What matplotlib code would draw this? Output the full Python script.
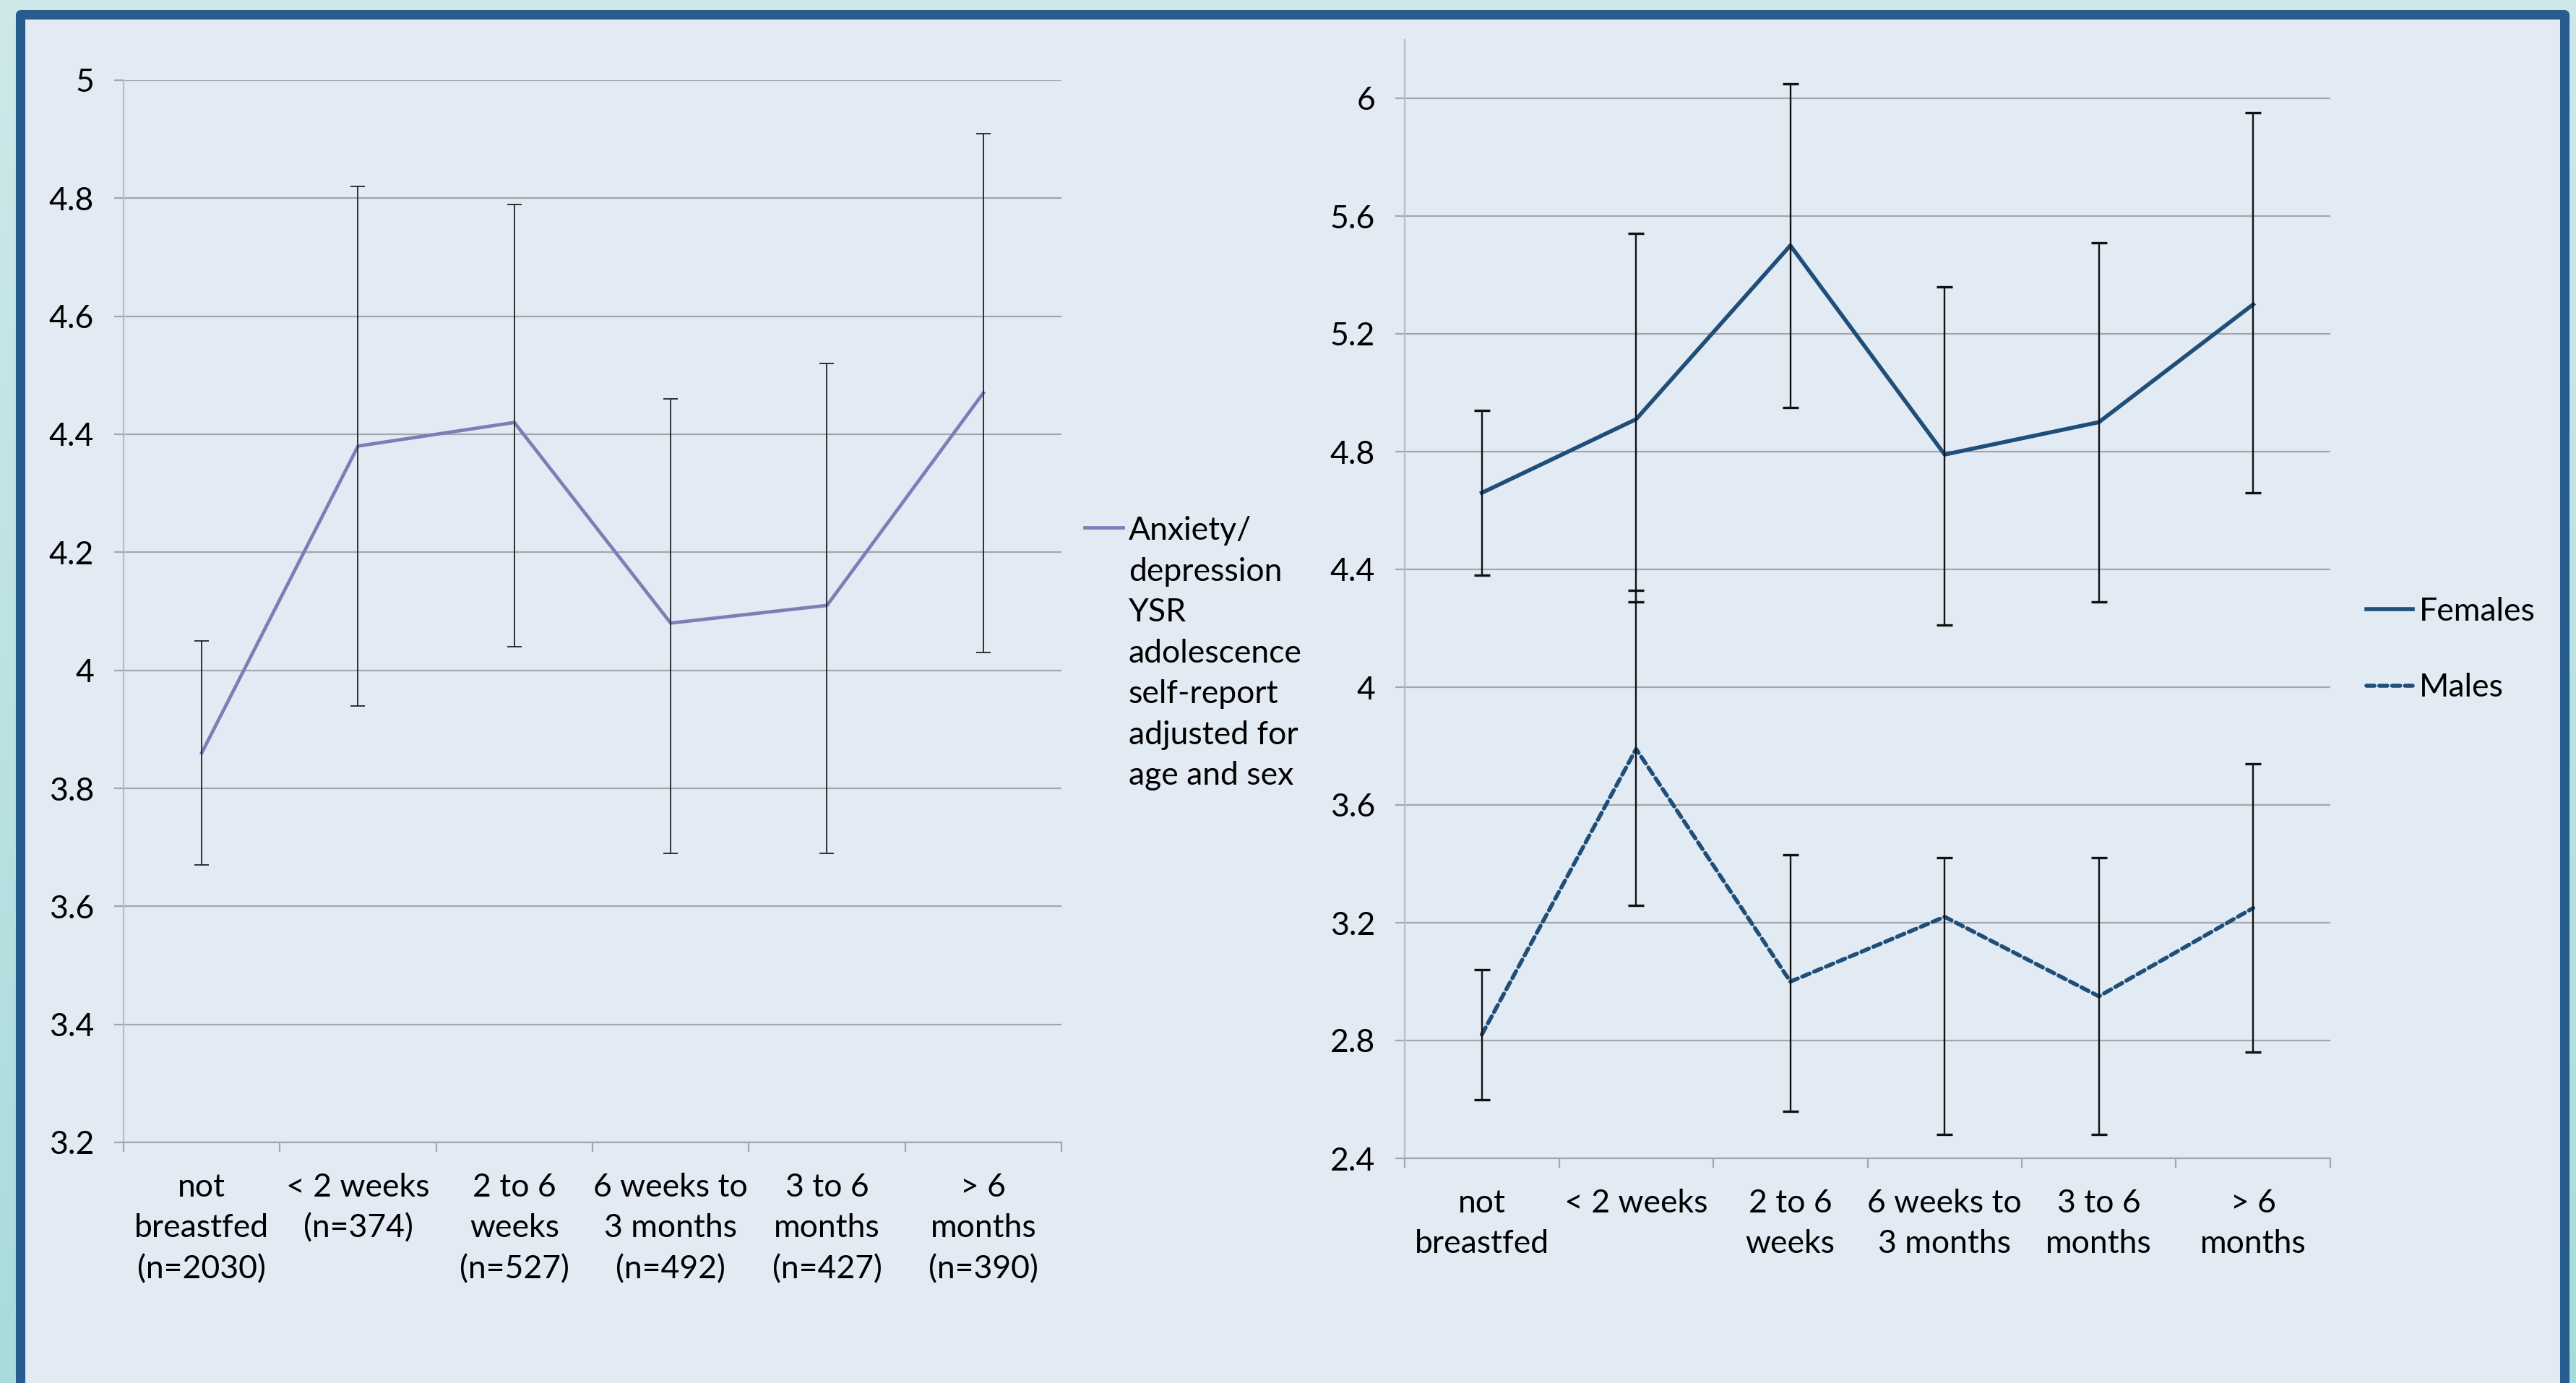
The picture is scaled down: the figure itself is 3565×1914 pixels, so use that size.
import numpy as np
import matplotlib
matplotlib.use('Agg')
import matplotlib.pyplot as plt
from matplotlib.patches import Rectangle

plt.rcParams['font.family'] = ['Lato', 'DejaVu Sans']

# data
cats_left = ['not\nbreastfed\n(n=2030)', '< 2 weeks\n(n=374)', '2 to 6\nweeks\n(n=527)',
             '6 weeks to\n3 months\n(n=492)', '3 to 6\nmonths\n(n=427)', '> 6\nmonths\n(n=390)']
cats_right = ['not\nbreastfed', '< 2 weeks', '2 to 6\nweeks', '6 weeks to\n3 months',
              '3 to 6\nmonths', '> 6\nmonths']

anx = [3.86, 4.38, 4.42, 4.08, 4.11, 4.47]
anx_lo = [3.67, 3.94, 4.04, 3.69, 3.69, 4.03]
anx_hi = [4.05, 4.82, 4.79, 4.46, 4.52, 4.91]

fem = [4.66, 4.91, 5.50, 4.79, 4.90, 5.30]
fem_lo = [4.38, 4.29, 4.95, 4.21, 4.29, 4.66]
fem_hi = [4.94, 5.54, 6.05, 5.36, 5.51, 5.95]

male = [2.82, 3.79, 3.00, 3.22, 2.95, 3.25]
male_lo = [2.60, 3.26, 2.56, 2.48, 2.48, 2.76]
male_hi = [3.04, 4.33, 3.43, 3.42, 3.42, 3.74]

left_ticks = [3.2, 3.4, 3.6, 3.8, 4.0, 4.2, 4.4, 4.6, 4.8, 5.0]
right_ticks = [2.4, 2.8, 3.2, 3.6, 4.0, 4.4, 4.8, 5.2, 5.6, 6.0]

W, H = 3566, 1914
fig = plt.figure(figsize=(W / 100, H / 100), dpi=100)

# background gradient + panel frame
bg = fig.add_axes([0, 0, 1, 1], zorder=-10)
grad = np.linspace(0, 1, 256).reshape(-1, 1)
c_top = np.array([0.81, 0.91, 0.915])
c_bot = np.array([0.66, 0.86, 0.86])
img = c_top[None, None, :] * (1 - grad[:, :, None]) + c_bot[None, None, :] * grad[:, :, None]
bg.imshow(img, aspect='auto', extent=[0, 1, 0, 1], origin='upper')
bg.set_xlim(0, 1)
bg.set_ylim(0, 1)
bg.axis('off')
bg.add_patch(Rectangle((28.5 / W, -0.05), (3549 - 28.5) / W, 1 - 19.5 / H + 0.05,
                       facecolor='#e2eaf4', edgecolor='#275c8f', linewidth=9.4,
                       joinstyle='round', clip_on=False))

grid_c = '#a3a6aa'
fs = 32
lsp = 1.47


def style(ax, yt, ylim, labels):
    ax.set_facecolor('none')
    ax.set_xlim(-0.5, 5.5)
    ax.set_ylim(*ylim)
    ax.set_yticks(yt)
    ax.set_yticklabels(['%g' % v for v in yt])
    ax.set_xticks(range(6))
    ax.set_xticklabels(labels, linespacing=lsp)
    ax.set_xticks(np.arange(-0.5, 6, 1), minor=True)
    ax.tick_params(axis='x', which='major', length=0, pad=30, labelsize=fs)
    ax.tick_params(axis='x', which='minor', length=9, width=1.6, color=grid_c)
    ax.tick_params(axis='y', length=9.4, width=1.6, color=grid_c, pad=20, labelsize=fs)
    ax.yaxis.grid(True, color=grid_c, linewidth=1.6)
    ax.set_axisbelow(True)
    for s in ['top', 'right']:
        ax.spines[s].set_visible(False)
    ax.spines['left'].set_color('#b9bcc0')
    ax.spines['left'].set_linewidth(1.6)
    ax.spines['bottom'].set_color(grid_c)
    ax.spines['bottom'].set_linewidth(1.6)


x = np.arange(6)

# left chart
ax1 = fig.add_axes([171 / W, 1 - 1581 / H, (1469 - 171) / W, (1581 - 111) / H])
style(ax1, left_ticks, (3.2, 5.0), cats_left)
ax1.plot(x, anx, color='#7c7eb6', linewidth=3.4, zorder=3,
         label='Anxiety/\ndepression\nYSR\nadolescence\nself-report\nadjusted for\nage and sex')
ax1.errorbar(x, anx, yerr=[np.subtract(anx, anx_lo), np.subtract(anx_hi, anx)], fmt='none',
             ecolor='#222222', elinewidth=1.3, capsize=7, capthick=1.3, zorder=4)
leg1 = ax1.legend(loc='upper left', bbox_to_anchor=(1501 / W, 1 - 714 / H),
                  bbox_transform=fig.transFigure, frameon=False, fontsize=fs,
                  handlelength=1.2, handletextpad=0.17, borderpad=0, borderaxespad=0)
for t in leg1.get_texts():
    t.set_linespacing(lsp)
for col in leg1._legend_handle_box.get_children():
    for row in col.get_children():
        row.align = 'top'

# right chart
ax2 = fig.add_axes([1944 / W, 1 - 1603 / H, (3225 - 1944) / W, (1603 - 54.5) / H])
style(ax2, right_ticks, (2.4, 6.2), cats_right)
blue = '#1f4e79'
ax2.plot(x, fem, color=blue, linewidth=4.0, zorder=3, label='Females')
ax2.plot(x, male, color=blue, linewidth=4.0, linestyle=(0, (2.0, 1.2)),
         dash_capstyle='round', zorder=3, label='Males')
ax2.errorbar(x, fem, yerr=[np.subtract(fem, fem_lo), np.subtract(fem_hi, fem)], fmt='none',
             ecolor='#111111', elinewidth=1.7, capsize=8, capthick=2.4, zorder=4)
ax2.errorbar(x, male, yerr=[np.subtract(male, male_lo), np.subtract(male_hi, male)], fmt='none',
             ecolor='#111111', elinewidth=1.7, capsize=8, capthick=2.4, zorder=4)
ax2.legend(loc='center left', bbox_to_anchor=(3275 / W, 1 - 899 / H),
           bbox_transform=fig.transFigure, frameon=False, fontsize=fs,
           handlelength=1.45, handletextpad=0.2, labelspacing=1.45,
           borderpad=0, borderaxespad=0)

fig.savefig('out.png', dpi=100)
